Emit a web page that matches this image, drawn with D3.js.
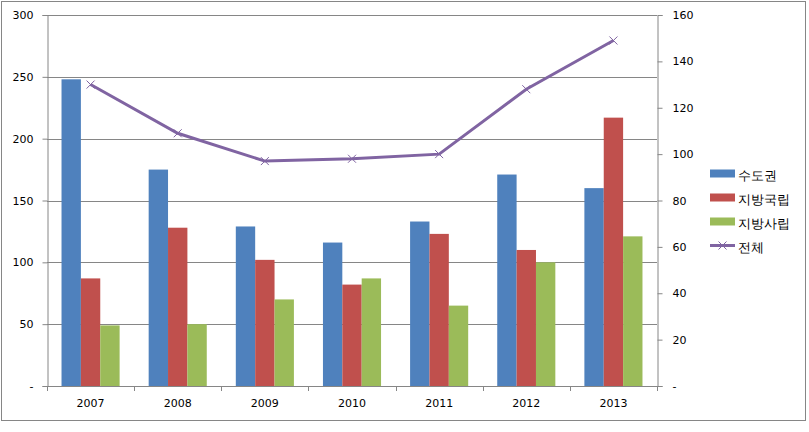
<!DOCTYPE html>
<html><head><meta charset="utf-8">
<script src="https://cdn.jsdelivr.net/npm/d3@7"></script>
<style>body{margin:0;background:#fff}svg{display:block}text{font-family:"DejaVu Sans",sans-serif}</style>
</head><body><svg id="c" width="809" height="432"></svg>
<script>
const categories = ["2007","2008","2009","2010","2011","2012","2013"];
const seriesNames = ["수도권","지방국립","지방사립"];
const capital = [248,175,129,116,133,171,160];
const localNational = [87,128,102,82,123,110,217];
const localPrivate = [49,50,70,87,65,100,121];
const totalName = "전체";
const total = [130,109,97,98,100,128,149];
const leftTicks = [0,50,100,150,200,250,300];
const rightTicks = [0,20,40,60,80,100,120,140,160];
const colors = ["#4F81BD","#C0504D","#9BBB59"];
const lineColor = "#8064A2";

const svg = d3.select("#c");
const L=47,R=657,T=15,B=386;
svg.append("rect").attr("x",1.5).attr("y",1.5).attr("width",804).attr("height",419).attr("fill","#fff").attr("stroke","#868686");

const x = d3.scaleBand().domain(categories).range([L,R]);
const yL = d3.scaleLinear().domain([0,300]).range([B,T]);
const yR = d3.scaleLinear().domain([0,160]).range([B,T]);
const bw = x.bandwidth()/4.5;

svg.append("g").selectAll("line").data(leftTicks.filter(d=>d>0)).join("line")
  .attr("x1",L).attr("x2",R).attr("y1",d=>Math.round(yL(d))+0.5).attr("y2",d=>Math.round(yL(d))+0.5)
  .attr("stroke","#868686");

const data=[capital,localNational,localPrivate];
data.forEach((s,i)=>{
  svg.append("g").selectAll("rect").data(s).join("rect")
    .attr("x",(d,j)=>x(categories[j])+0.75*bw+i*bw)
    .attr("width",bw).attr("y",d=>yL(d)).attr("height",d=>B-yL(d)).attr("fill",colors[i]);
});

const fmt = d=> d===0?"-":String(d);
const gL = svg.append("g").attr("transform",`translate(${L+0.5},0)`).call(d3.axisLeft(yL).tickValues(leftTicks).tickFormat(fmt).tickSize(5).tickPadding(9));
const gR = svg.append("g").attr("transform",`translate(${R+0.5},0)`).call(d3.axisRight(yR).tickValues(rightTicks).tickFormat(fmt).tickSize(5).tickPadding(10));
const gX = svg.append("g").attr("transform",`translate(0,${B+0.5})`).call(d3.axisBottom(x).tickSize(0).tickPadding(13));
svg.append("g").selectAll("line").data(d3.range(categories.length+1)).join("line")
  .attr("x1",i=>Math.round(L+i*x.step())+0.5).attr("x2",i=>Math.round(L+i*x.step())+0.5)
  .attr("y1",B).attr("y2",B+5).attr("stroke","#868686");
[gL,gR,gX].forEach(g=>{
  g.selectAll("path,line").attr("stroke","#868686");
  g.selectAll("text").attr("font-size",11).attr("fill","#000").attr("font-family","DejaVu Sans, sans-serif");
});
gX.select(".domain").attr("d",`M${L},0H${R}`);

const lg = d3.line().x((d,j)=>x(categories[j])+x.bandwidth()/2).y(d=>yR(d));
svg.append("path").datum(total).attr("d",lg).attr("fill","none").attr("stroke",lineColor).attr("stroke-width",3);
const m=4;
svg.append("g").selectAll("path").data(total).join("path")
  .attr("d",(d,j)=>{const cx=x(categories[j])+x.bandwidth()/2, cy=yR(d);return `M${cx-m},${cy-m}L${cx+m},${cy+m}M${cx-m},${cy+m}L${cx+m},${cy-m}`;})
  .attr("stroke",lineColor).attr("stroke-width",1);

const lgY=[173.5,197.5,221.5,245.5];
const leg = svg.append("g");
seriesNames.forEach((n,i)=>{
  leg.append("rect").attr("x",710).attr("y",lgY[i]-4).attr("width",25).attr("height",8).attr("fill",colors[i]);
  leg.append("text").attr("x",738).attr("y",lgY[i]+2).attr("dy","0.35em").attr("font-size",13).attr("font-family","Noto Sans CJK KR").text(n);
});
leg.append("line").attr("x1",710).attr("x2",735).attr("y1",lgY[3]).attr("y2",lgY[3]).attr("stroke",lineColor).attr("stroke-width",3);
leg.append("path").attr("d",`M${722.5-m},${lgY[3]-m}L${722.5+m},${lgY[3]+m}M${722.5-m},${lgY[3]+m}L${722.5+m},${lgY[3]-m}`).attr("stroke",lineColor);
leg.append("text").attr("x",738).attr("y",lgY[3]+2).attr("dy","0.35em").attr("font-size",13).attr("font-family","Noto Sans CJK KR").text(totalName);
</script></body></html>
